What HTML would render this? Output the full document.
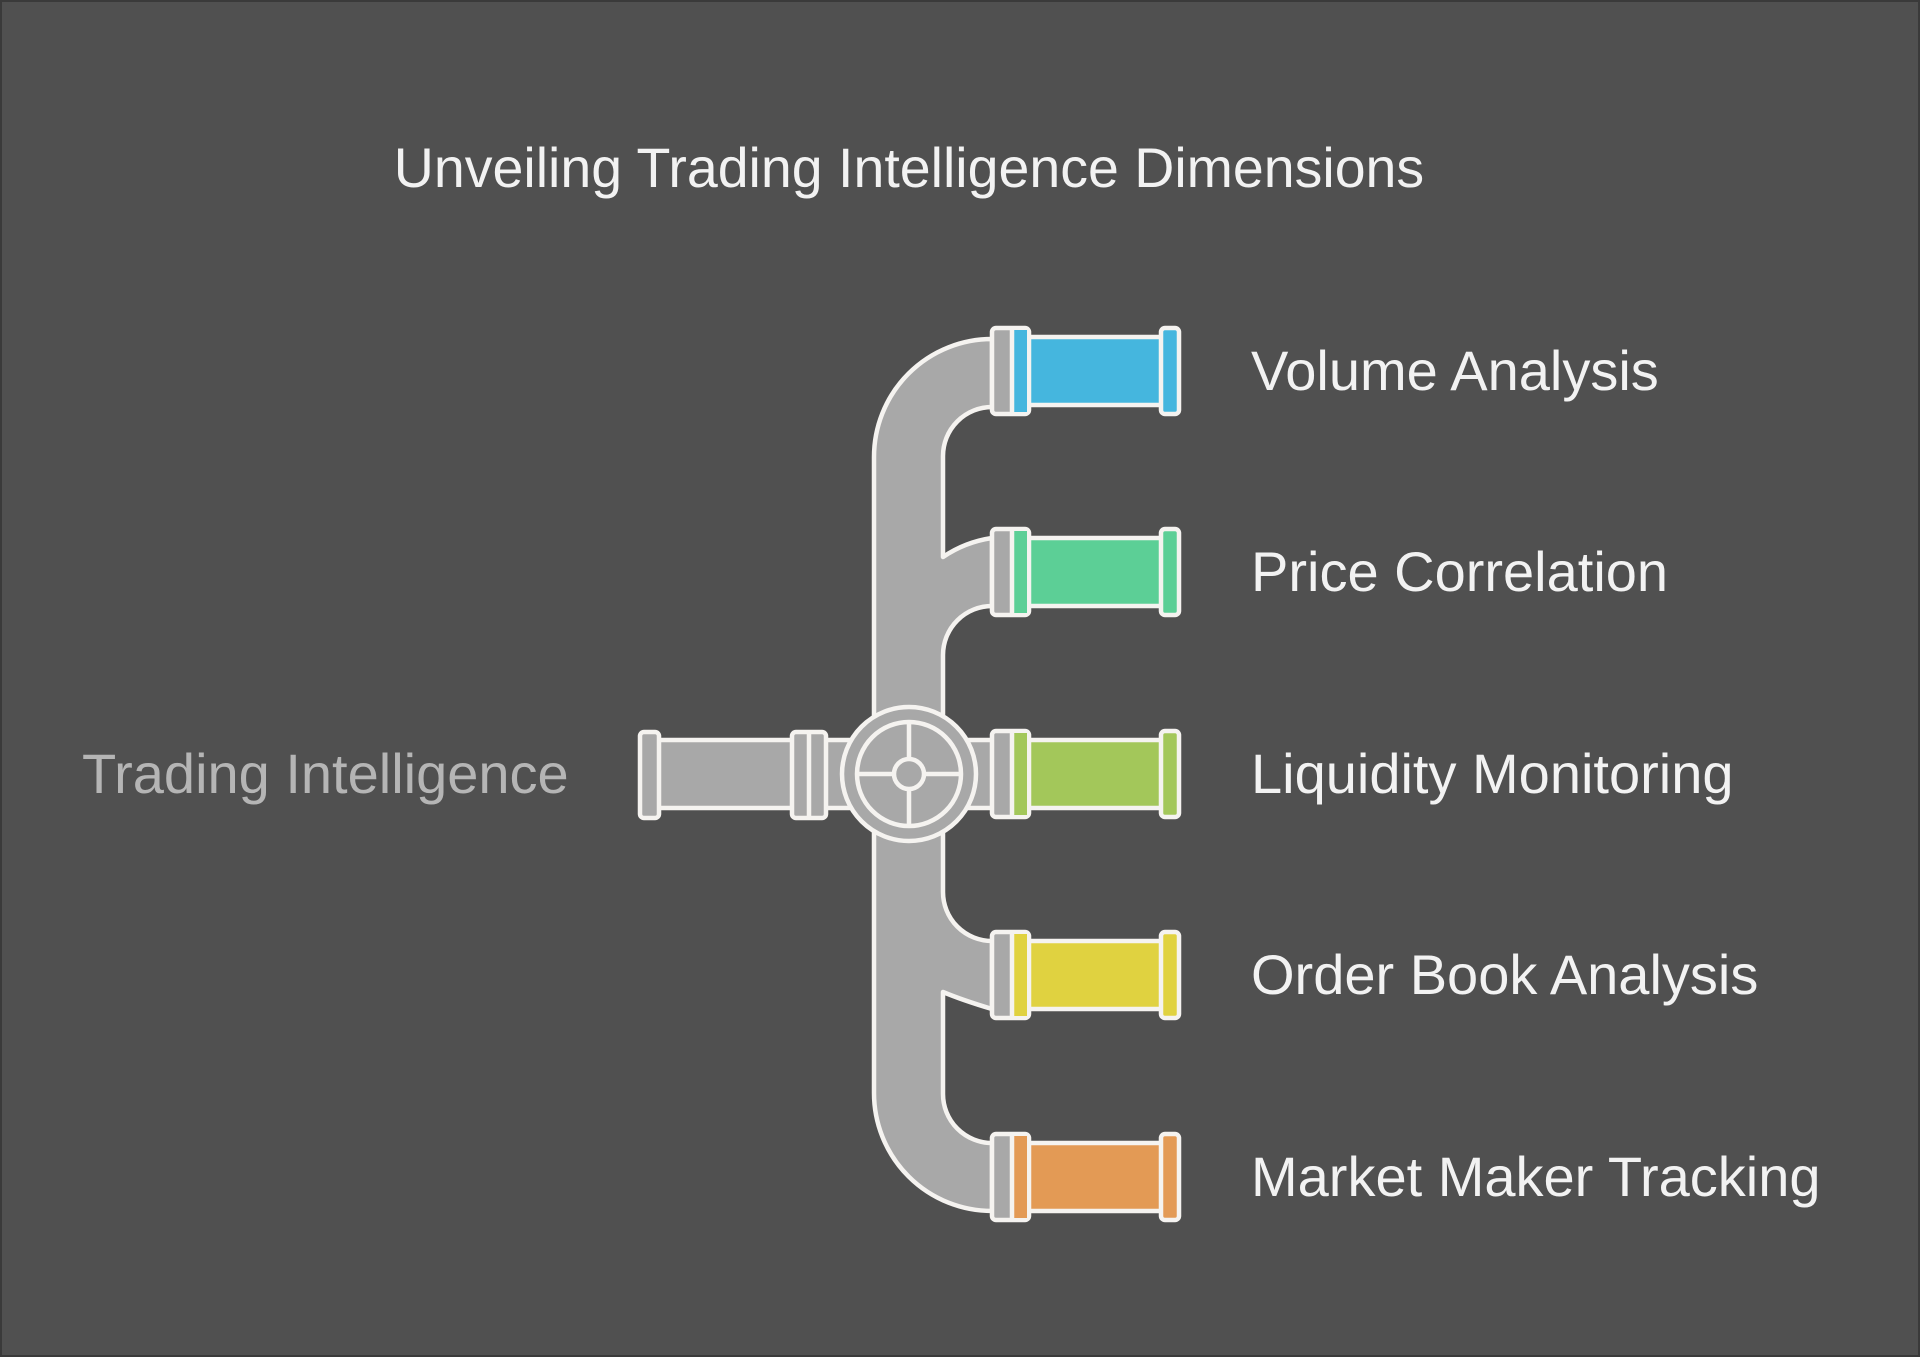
<!DOCTYPE html>
<html><head><meta charset="utf-8"><style>
html,body{margin:0;padding:0;background:#505050;}
body{width:1920px;height:1357px;overflow:hidden;position:relative;font-family:"Liberation Sans",sans-serif;}
.frame{position:absolute;left:0;top:0;width:1916px;height:1353px;border:2px solid #3a3a3a;}
</style></head><body>
<div class="frame"></div>
<svg width="1920" height="1357" style="position:absolute;left:0;top:0">
<g font-family="Liberation Sans, sans-serif">
<text x="909" y="187" text-anchor="middle" font-size="55.5" fill="#f2f2f2">Unveiling Trading Intelligence Dimensions</text>
<text x="82" y="793" font-size="56" fill="#b5b5b5">Trading Intelligence</text>
<text x="1251" y="390" font-size="56" fill="#f2f2f2">Volume Analysis</text>
<text x="1251" y="591" font-size="56" fill="#f2f2f2">Price Correlation</text>
<text x="1251" y="793" font-size="56" fill="#f2f2f2">Liquidity Monitoring</text>
<text x="1251" y="994" font-size="56" fill="#f2f2f2">Order Book Analysis</text>
<text x="1251" y="1196" font-size="56" fill="#f2f2f2">Market Maker Tracking</text>
</g>
<g stroke="#f5f3f0" stroke-width="4.5" stroke-linejoin="round">
<path fill="#a8a8a8" d="M992 339 A118 118 0 0 0 874 457 L874 1093 A118 118 0 0 0 992 1211 L992 1143 A49 49 0 0 1 943 1094 L943 992 Q962 1000 992 1009 L992 941 A49 49 0 0 1 943 892 L943 655 A49 49 0 0 1 992 606 L992 538 Q965 542 943 557 L943 456 A49 49 0 0 1 992 407 Z"/>
<rect x="655" y="740" width="200" height="68" fill="#a8a8a8"/>
<rect x="640" y="732" width="19" height="86" rx="4" fill="#a8a8a8"/>
<rect x="792" y="732" width="34" height="86" rx="4" fill="#a8a8a8"/>
<line x1="809" y1="734" x2="809" y2="816"/>
<rect x="960" y="740" width="40" height="68" fill="#a8a8a8"/>
</g>
<g stroke="#f5f3f0" stroke-width="4.5" stroke-linejoin="round">
<g transform="translate(0,371)"><rect x="1027" y="-34" width="136" height="68" fill="#45b6de"/><rect x="992" y="-43" width="37" height="86" rx="4" fill="#a8a8a8"/><rect x="1012" y="-41" width="15" height="82" fill="#45b6de" stroke="none"/><line x1="1012" y1="-41" x2="1012" y2="41"/><rect x="1161" y="-43" width="18" height="86" rx="4" fill="#45b6de"/></g>
<g transform="translate(0,572)"><rect x="1027" y="-34" width="136" height="68" fill="#5ccf96"/><rect x="992" y="-43" width="37" height="86" rx="4" fill="#a8a8a8"/><rect x="1012" y="-41" width="15" height="82" fill="#5ccf96" stroke="none"/><line x1="1012" y1="-41" x2="1012" y2="41"/><rect x="1161" y="-43" width="18" height="86" rx="4" fill="#5ccf96"/></g>
<g transform="translate(0,774)"><rect x="1027" y="-34" width="136" height="68" fill="#a3c75a"/><rect x="992" y="-43" width="37" height="86" rx="4" fill="#a8a8a8"/><rect x="1012" y="-41" width="15" height="82" fill="#a3c75a" stroke="none"/><line x1="1012" y1="-41" x2="1012" y2="41"/><rect x="1161" y="-43" width="18" height="86" rx="4" fill="#a3c75a"/></g>
<g transform="translate(0,975)"><rect x="1027" y="-34" width="136" height="68" fill="#e0d240"/><rect x="992" y="-43" width="37" height="86" rx="4" fill="#a8a8a8"/><rect x="1012" y="-41" width="15" height="82" fill="#e0d240" stroke="none"/><line x1="1012" y1="-41" x2="1012" y2="41"/><rect x="1161" y="-43" width="18" height="86" rx="4" fill="#e0d240"/></g>
<g transform="translate(0,1177)"><rect x="1027" y="-34" width="136" height="68" fill="#e39a55"/><rect x="992" y="-43" width="37" height="86" rx="4" fill="#a8a8a8"/><rect x="1012" y="-41" width="15" height="82" fill="#e39a55" stroke="none"/><line x1="1012" y1="-41" x2="1012" y2="41"/><rect x="1161" y="-43" width="18" height="86" rx="4" fill="#e39a55"/></g>
</g>
<g stroke="#f5f3f0" stroke-width="4.5" fill="#a8a8a8">
<circle cx="909" cy="774" r="67"/>
<circle cx="909" cy="774" r="52"/>
<line x1="909" y1="722" x2="909" y2="826"/>
<line x1="857" y1="774" x2="961" y2="774"/>
<circle cx="909" cy="774" r="15"/>
</g>
</svg>
</body></html>
